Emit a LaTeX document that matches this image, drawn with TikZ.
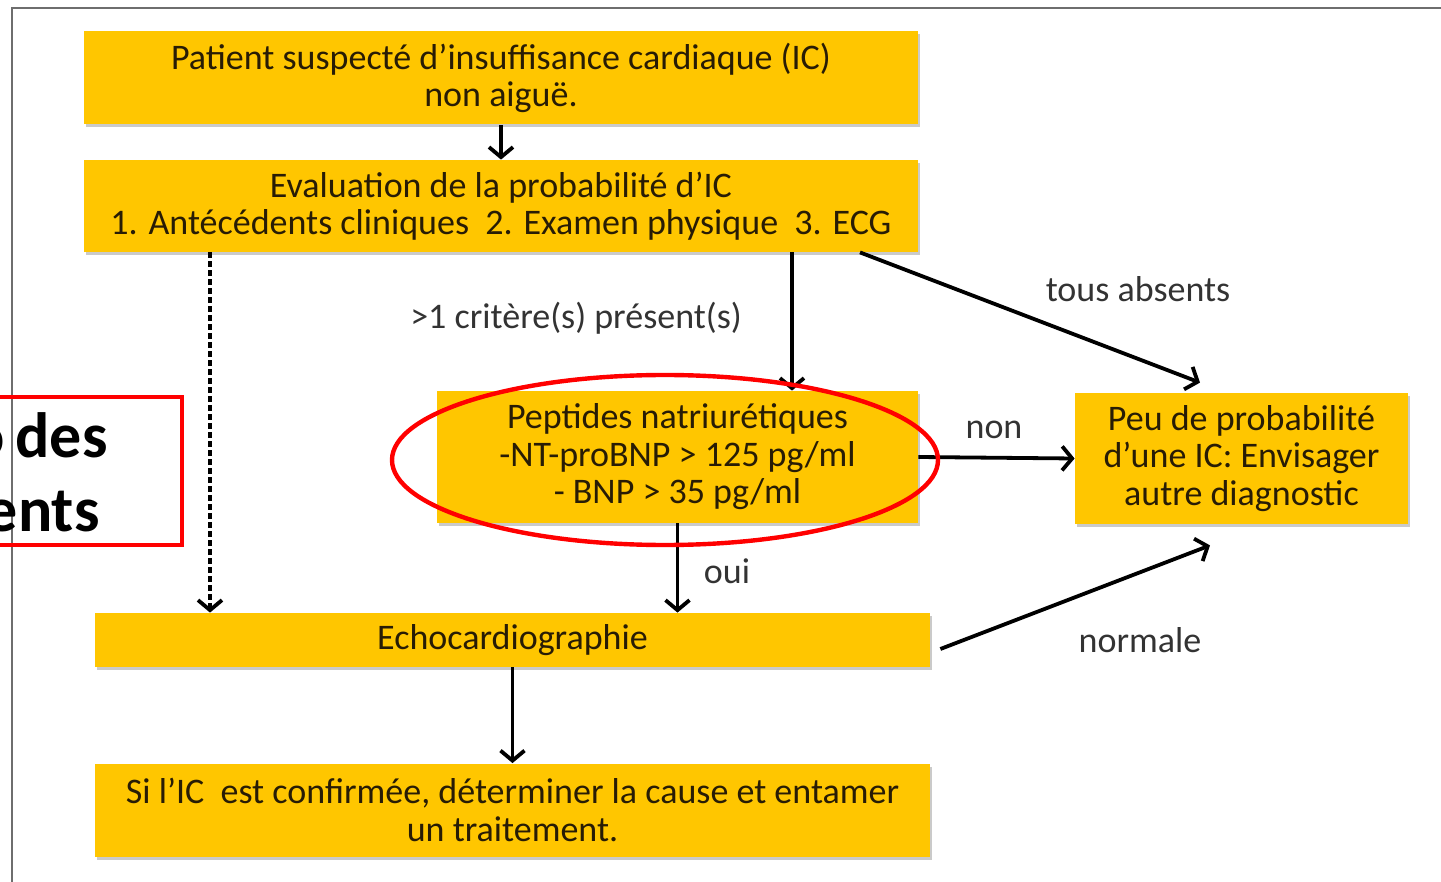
\documentclass[tikz,border=0pt]{standalone}
\usepackage{fontspec}
\setmainfont{Carlito}
\usepackage{xcolor}
\usetikzlibrary{arrows.meta}
\usetikzlibrary{shadows}
\usetikzlibrary{calc}
\definecolor{boxyellow}{RGB}{255,198,0}
\definecolor{boxtext}{RGB}{40,28,5}
\definecolor{frame}{RGB}{110,110,110}
\begin{document}
\begin{tikzpicture}[x=0.5pt,y=-0.5pt,
	box/.style={fill=boxyellow, draw=none, align=center, text=boxtext,
		font=\fontsize{18}{18.75}\selectfont, inner sep=0pt,
		drop shadow={shadow xshift=1.2pt, shadow yshift=-1.5pt, opacity=0.35, fill=black!60}},
	lbl/.style={text=black!80, font=\fontsize{18}{20}\selectfont, inner sep=0pt},
	arr/.style={line width=1.9pt, -{Straight Barb[length=5pt,width=12pt,line width=1.9pt]}}]
	\useasboundingbox (0,0) rectangle (1441,882);
	\clip (0,0) rectangle (1441,882);

	\draw[frame, line width=1.3pt] (12,900) -- (12,8) -- (1460,8);

	\node[box, minimum width=417pt, minimum height=46.5pt] (patient) at (501,78)
	{Patient suspecté d’insuffisance cardiaque (IC)\\non aiguë.};
	\node[box, minimum width=417pt, minimum height=46pt] (evaluation) at (501,206)
	{Evaluation de la probabilité d’IC\\1. Antécédents cliniques \ 2. Examen physique \ 3. ECG};
	\node[box, minimum width=240.5pt, minimum height=66pt] (peptides) at (677.5,457)
	{Peptides natriurétiques\\-NT-proBNP > 125 pg/ml\\- BNP > 35 pg/ml};
	\node[box, minimum width=166.5pt, minimum height=65.5pt] (autre) at (1241.5,458.5)
	{Peu de probabilité\\d’une IC: Envisager\\autre diagnostic};
	\node[box, minimum width=417.5pt, minimum height=27pt] (echo) at (512.5,640)
	{Echocardiographie};
	\node[box, minimum width=417.5pt, minimum height=46.5pt] (traitement) at (512.5,810)
	{Si l’IC \ est confirmée, déterminer la cause et entamer\\un traitement.};

	\coordinate (dashx) at (210,0);
	\coordinate (critx) at (792,0);
	\coordinate (absx) at (860,0);
	\coordinate (absy) at (1200,0);
	\coordinate (normx) at (1210,0);

	\draw[arr] (patient) -- (evaluation);
	\draw[arr, dash pattern=on 3pt off 1.5pt] (evaluation.south -| dashx) -- (echo.north -| dashx);
	\draw[arr] (evaluation.south -| critx) -- (peptides.north -| critx);
	\draw[arr] (evaluation.south -| absx) -- ([yshift=5pt]autre.north -| absy);
	\draw[arr] (peptides.east) -- (autre.west);
	\draw[arr] (peptides.south) -- (peptides.south |- echo.north);
	\draw[arr] ([xshift=5pt,yshift=-4.5pt]echo.east) -- ([yshift=-10.5pt]autre.south -| normx);
	\draw[arr] (echo) -- (traitement);

	\node[lbl] (crit) at (576,318) {>1 critère(s) présent(s)};
	\node[lbl] (absents) at (1138,289) {tous absents};
	\node[lbl] (non) at (994,430) {non};
	\node[lbl] (oui) at (727,571) {oui};
	\node[lbl] (normale) at (1140,640) {normale};

	% mise en evidence
	\draw[red, line width=2.2pt] (665,460) ellipse [x radius=273, y radius=85];
	\draw[red, line width=1.8pt] (-20,397) rectangle (182,545);
	\node[anchor=east, font=\fontsize{32}{38}\selectfont\bfseries, inner sep=0pt] (des) at (108,435) {o\kern-2pt\ des};
	\node[anchor=east, font=\fontsize{32}{38}\selectfont\bfseries, inner sep=0pt] (ents) at (100,512) {ents};
\end{tikzpicture}
\end{document}
